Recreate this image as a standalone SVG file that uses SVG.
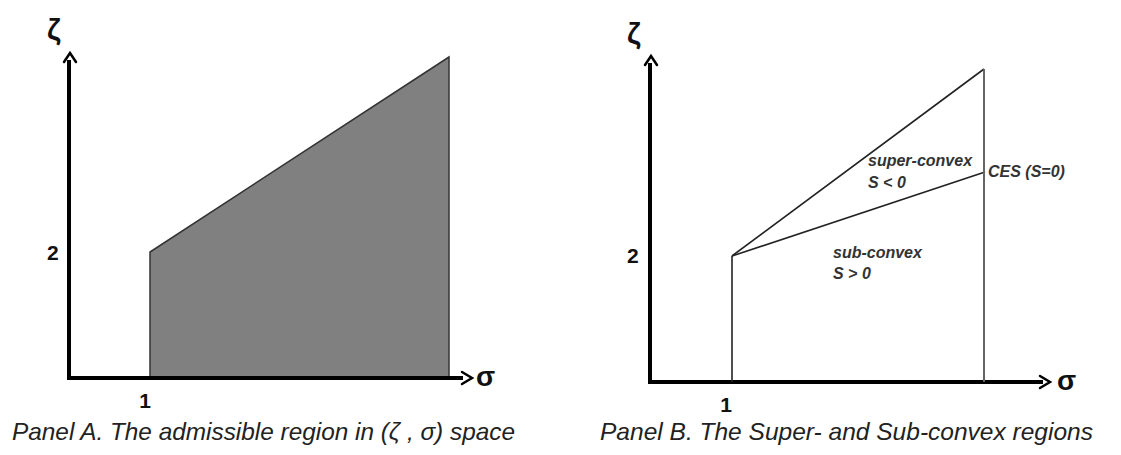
<svg xmlns="http://www.w3.org/2000/svg" width="1121" height="455" viewBox="0 0 1121 455">
<style>
.axis{stroke:#000;stroke-width:4;fill:none}
.head{stroke:#000;stroke-width:2.5;fill:none;stroke-linecap:round}
.thin{stroke:#222;stroke-width:1.6;fill:none}
.grey{stroke:#666;stroke-width:2;fill:none}
.lab{font-family:"Liberation Sans",Arial,sans-serif;font-weight:bold;fill:#111}
.cap{font-family:"Liberation Sans",Arial,sans-serif;font-style:italic;font-size:24px;fill:#222}
.reg{font-family:"Liberation Sans",Arial,sans-serif;font-style:italic;font-weight:bold;font-size:16px;fill:#333}
</style>
<rect width="1121" height="455" fill="#fff"/>
<g id="panelA">
  <polygon points="150,378 150,252 449,57 449,378" fill="#808080" stroke="#333" stroke-width="1.5"/>
  <g id="axesA">
    <path class="axis" d="M69,60 V380 M67,378 H463"/>
    <path class="head" d="M64,62 L70,53 L76,62"/>
    <path class="head" d="M462,372 L472,378 L462,384"/>
  </g>
  <text class="lab" x="47" y="40" font-size="30">ζ</text>
  <text class="lab" x="476" y="386" font-size="28">σ</text>
  <text class="lab" x="47" y="260" font-size="21">2</text>
  <text class="lab" x="145" y="408" font-size="21" text-anchor="middle">1</text>
  <text class="cap" x="12" y="440" textLength="503" lengthAdjust="spacingAndGlyphs">Panel A. The admissible region in (ζ , σ) space</text>
</g>
<g id="panelB">
  <g id="axesB">
    <path class="axis" d="M650,63 V384 M648,382 H1043"/>
    <path class="head" d="M645,65 L651,56 L657,65"/>
    <path class="head" d="M1040,376 L1050,382 L1040,388"/>
  </g>
  <g id="connectors">
    <path class="thin" d="M732,382 V256"/>
    <path class="thin" d="M732,256 L984,69"/>
    <path class="thin" d="M732,256 L985,172"/>
    <path class="grey" d="M984,69 V382"/>
  </g>
  <text class="lab" x="627" y="44" font-size="30">ζ</text>
  <text class="lab" x="1057" y="390" font-size="28">σ</text>
  <text class="lab" x="627" y="263" font-size="21">2</text>
  <text class="lab" x="726" y="412" font-size="21" text-anchor="middle">1</text>
  <g id="super"><text class="reg" x="868" y="166">super-convex</text><text class="reg" x="868" y="188">S &lt; 0</text></g>
  <g id="ces"><text class="reg" x="988" y="177">CES (S=0)</text></g>
  <g id="sub"><text class="reg" x="833" y="258">sub-convex</text><text class="reg" x="833" y="279">S &gt; 0</text></g>
  <text class="cap" x="600" y="440" textLength="493" lengthAdjust="spacingAndGlyphs">Panel B. The Super- and Sub-convex regions</text>
</g>
</svg>
